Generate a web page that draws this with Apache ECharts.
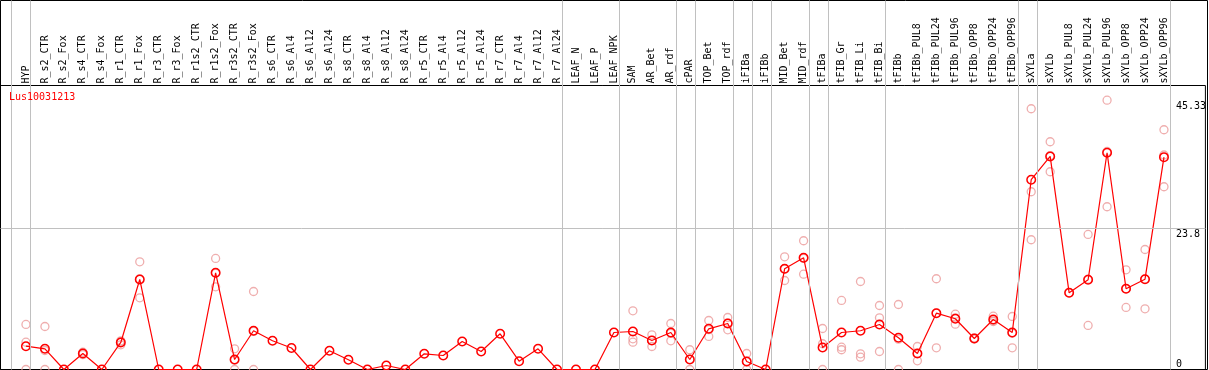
<!DOCTYPE html>
<html>
<head>
<meta charset="utf-8">
<script src="https://cdn.jsdelivr.net/npm/echarts@6/dist/echarts.min.js"></script>
<style>
  html, body { margin: 0; padding: 0; background: #fff; }
  #chart { width: 1209px; height: 370px; }
</style>
</head>
<body>
<div id="chart"></div>
<script>
// sample names, in plot order
const categories = [
  'HYP', 'R_s2_CTR', 'R_s2_Fox', 'R_s4_CTR', 'R_s4_Fox', 'R_r1_CTR', 'R_r1_Fox',
  'R_r3_CTR', 'R_r3_Fox', 'R_r1s2_CTR', 'R_r1s2_Fox', 'R_r3s2_CTR', 'R_r3s2_Fox',
  'R_s6_CTR', 'R_s6_Al4', 'R_s6_Al12', 'R_s6_Al24', 'R_s8_CTR', 'R_s8_Al4',
  'R_s8_Al12', 'R_s8_Al24', 'R_r5_CTR', 'R_r5_Al4', 'R_r5_Al12', 'R_r5_Al24',
  'R_r7_CTR', 'R_r7_Al4', 'R_r7_Al12', 'R_r7_Al24', 'LEAF_N', 'LEAF_P', 'LEAF_NPK',
  'SAM', 'AR_Bet', 'AR_rdf', 'cPAR', 'TOP_Bet', 'TOP_rdf', 'iFIBa', 'iFIBb',
  'MID_Bet', 'MID_rdf', 'tFIBa', 'tFIB_Gr', 'tFIB_Li', 'tFIB_Bi', 'tFIBb',
  'tFIBb_PUL8', 'tFIBb_PUL24', 'tFIBb_PUL96', 'tFIBb_OPP8', 'tFIBb_OPP24', 'tFIBb_OPP96',
  'sXYLa', 'sXYLb', 'sXYLb_PUL8', 'sXYLb_PUL24', 'sXYLb_PUL96', 'sXYLb_OPP8',
  'sXYLb_OPP24', 'sXYLb_OPP96',
];

// mean expression per sample
const means = [
  3.92, 3.48, 0, 2.69, 0, 4.55, 15.15, 0, 0, 0, 16.28, 1.68, 6.52,
  4.83, 3.62, 0, 3.15, 1.63, 0, 0.67, 0, 2.64, 2.36, 4.71, 3.03,
  6.01, 1.40, 3.48, 0, 0, 0, 6.23,
  6.40, 4.88, 6.23, 1.68, 6.85, 7.74, 1.35, 0,
  16.95, 18.8, 3.70, 6.23, 6.52, 7.58, 5.35,
  2.69, 9.48, 8.54, 5.22, 8.42, 6.23,
  31.94, 35.86, 12.91, 15.10, 36.48, 13.59, 15.20, 35.74,
];

// individual replicates per sample
const replicates = [
  [7.58, 4.6, 0], [7.24, 3.2, 0], [], [2.9, 2.5], [], [4.83, 4.66, 4.16],
  [18.13, 15.25, 12.07], [], [], [], [18.69, 16.2, 13.92], [3.48, 1.56, 0],
  [13.13, 6.4, 0],
  [], [], [], [], [], [], [], [], [], [], [], [], [], [], [], [],
  [], [], [],
  [9.88, 5.17, 4.6], [5.84, 4.9, 3.87], [7.74, 6.1, 4.83], [3.32, 1.7, 0],
  [8.25, 6.7, 5.56], [8.75, 7.8, 6.68], [2.69, 1.35, 0], [],
  [18.97, 16.9, 14.98], [21.67, 18.7, 16.04], [6.9, 4.33, 0],
  [11.62, 3.75, 3.32], [14.81, 2.64, 2.07], [10.77, 8.7, 3.03], [10.94, 5.1, 0],
  [3.87, 2.7, 1.46], [15.27, 9.5, 3.65], [9.31, 8.7, 7.63],
  [5.3, 5.2, 5.15], [8.97, 8.2, 8.08], [8.92, 6.1, 3.65],
  [43.89, 29.92, 21.84], [38.33, 36.0, 33.28], [12.9],
  [22.73, 15.2, 7.41], [45.33, 36.7, 27.39], [16.78, 13.6, 10.44],
  [20.2, 15.2, 10.22], [40.35, 36.1, 30.76],
];

// last sample index of each tissue group (vertical separators)
const groupEnds = [-1, 0, 28, 31, 34, 35, 37, 38, 39, 41, 42, 45, 52, 53, 60];

// right-hand value labels
const yTicks = [0, 23.8, 45.33];

const X_MIN = -1.342;
const X_MAX = 62.184;
const Y_MAX = 47.8;
const MONO = '"DejaVu Sans Mono", "Liberation Mono", monospace';
const GRID_GRAY = '#c0c0c0';

const chart = echarts.init(document.getElementById('chart'), null, { renderer: 'canvas' });

const lineData = means.map((v, i) => [i, v]);
const repData = [];
replicates.forEach((vals, i) => {
  vals.forEach(v => repData.push([i, v]));
});

const option = {
  animation: false,
  title: {
    text: 'Lus10031213',
    left: 9,
    top: 92,
    padding: 0,
    textStyle: { color: '#ff0000', fontSize: 10, fontWeight: 'normal', fontFamily: MONO },
  },
  grid: [
    // outer frame, separators run full height
    { left: 0.5, right: 1.5, top: 0.5, bottom: 0.5, show: true, borderColor: '#000', borderWidth: 1 },
    // plot area
    { left: 0.5, right: 1.5, top: 85.5, bottom: 0.5, show: true, borderColor: '#000', borderWidth: 1 },
  ],
  xAxis: [
    { gridIndex: 0, type: 'value', min: X_MIN, max: X_MAX, show: false },
    {
      gridIndex: 1,
      type: 'value',
      position: 'top',
      min: X_MIN,
      max: X_MAX,
      axisLine: { show: false },
      axisTick: { show: false },
      splitLine: { show: false },
      axisLabel: {
        customValues: categories.map((_, i) => i),
        formatter: v => categories[v],
        rotate: 90,
        margin: 2,
        color: '#000',
        fontSize: 10,
        fontFamily: MONO,
      },
    },
  ],
  yAxis: [
    { gridIndex: 0, type: 'value', min: 0, max: 1, show: false },
    {
      gridIndex: 1,
      type: 'value',
      position: 'right',
      min: 0,
      max: Y_MAX,
      axisLine: { show: false },
      axisTick: { show: false },
      splitLine: { show: false },
      axisLabel: {
        inside: true,
        customValues: yTicks.filter(v => v > 0),
        align: 'left',
        verticalAlign: 'top',
        margin: 29.5,
        padding: [1, 0, 0, 0],
        color: '#000',
        fontSize: 10,
        fontFamily: MONO,
      },
    },
    {
      gridIndex: 1,
      type: 'value',
      position: 'right',
      min: 0,
      max: Y_MAX,
      axisLine: { show: false },
      axisTick: { show: false },
      splitLine: { show: false },
      axisLabel: {
        inside: true,
        customValues: yTicks.filter(v => v === 0),
        align: 'left',
        verticalAlign: 'bottom',
        margin: 29.5,
        color: '#000',
        fontSize: 10,
        fontFamily: MONO,
      },
    },
  ],
  series: [
    {
      // group separators
      type: 'line',
      xAxisIndex: 0,
      yAxisIndex: 0,
      data: [],
      z: 1,
      silent: true,
      markLine: {
        silent: true,
        symbol: ['none', 'none'],
        label: { show: false },
        lineStyle: { color: GRID_GRAY, width: 1, type: 'solid' },
        emphasis: { disabled: true },
        data: groupEnds.map(k => ({ xAxis: k + 0.24 })),
      },
    },
    {
      // horizontal guide line
      type: 'line',
      xAxisIndex: 1,
      yAxisIndex: 1,
      data: [],
      z: 1,
      silent: true,
      markLine: {
        silent: true,
        symbol: ['none', 'none'],
        label: { show: false },
        lineStyle: { color: GRID_GRAY, width: 1, type: 'solid' },
        emphasis: { disabled: true },
        data: [{ yAxis: yTicks[1] }],
      },
    },
    {
      name: 'replicates',
      type: 'scatter',
      xAxisIndex: 1,
      yAxisIndex: 1,
      symbol: 'circle',
      symbolSize: 8,
      z: 2,
      itemStyle: { color: 'transparent', borderColor: '#eb9a9a', borderWidth: 1.3 },
      data: repData,
    },
    {
      name: 'mean',
      type: 'line',
      xAxisIndex: 1,
      yAxisIndex: 1,
      symbol: 'circle',
      symbolSize: 8.5,
      showAllSymbol: true,
      z: 3,
      lineStyle: { color: '#ff0000', width: 1.2 },
      itemStyle: { color: 'transparent', borderColor: '#ff0000', borderWidth: 1.5 },
      data: lineData,
    },
  ],
};

chart.setOption(option);
</script>
</body>
</html>
